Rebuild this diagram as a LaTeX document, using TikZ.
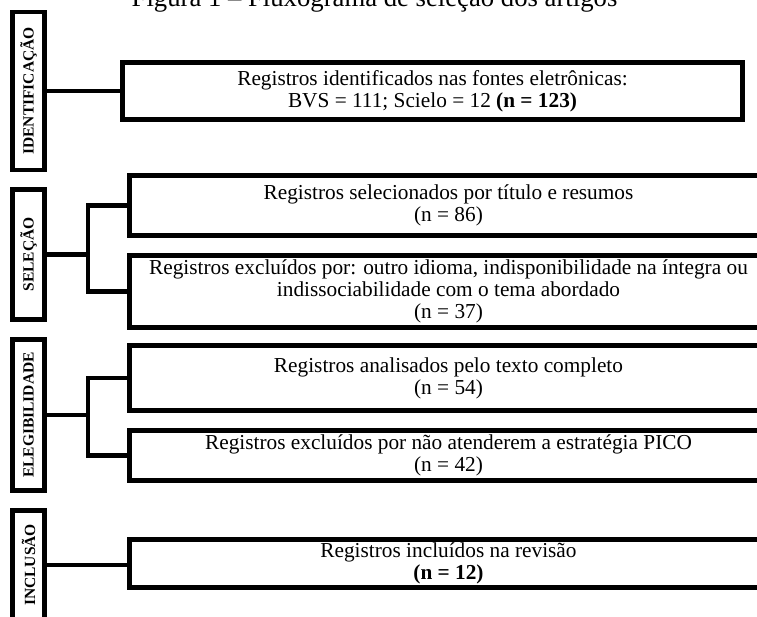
\documentclass[tikz,border=0pt]{standalone}
\usepackage{fontspec}
\setmainfont{Liberation Serif}

\begin{document}
\begin{tikzpicture}[x=1pt,y=-1pt,
box/.style={draw, line width=4.5pt, inner sep=2pt, align=center, font=\fontsize{21.3}{22}\selectfont},
stage/.style={draw, line width=4.5pt, rotate=90, inner sep=0pt, minimum height=32pt, font=\fontsize{15.5}{16}\selectfont\bfseries},
link/.style={line width=4.5pt}]
\clip (0,0) rectangle (757,617);
\node[anchor=base, font=\fontsize{26.7}{28}\selectfont] (title) at (374.5,6.5) {Figura 1 – Fluxograma de seleção dos artigos};
\foreach \nm/\y/\h/\txt in {lid/91/158/IDENTIFICAÇÃO, lsel/254.5/130/SELEÇÃO, leleg/415/151/ELEGIBILIDADE, lincl/565/109/INCLUSÃO}{
\node[stage, minimum width=\h pt] (\nm) at (28.5,\y) {\txt};
}
\node[box, line width=5pt, minimum width=620pt, minimum height=57pt] (reg) at (432.5,91) {Registros identificados nas fontes eletrônicas:\\ BVS = 111; Scielo = 12 \textbf{(n = 123)}};
\node[box, minimum width=638pt, minimum height=60pt] (sel1) at (448.5,205.5) {Registros selecionados por título e resumos\\ (n = 86)};
\node[box, minimum width=638pt, minimum height=72pt] (sel2) at (448.5,291.5) {Registros excluídos por: outro idioma, indisponibilidade na íntegra ou\\ indissociabilidade com o tema abordado\\ (n = 37)};
\node[box, minimum width=638pt, minimum height=65pt] (eleg1) at (448.5,378) {Registros analisados pelo texto completo\\ (n = 54)};
\node[box, minimum width=638pt, minimum height=50pt] (eleg2) at (448.5,455.5) {Registros excluídos por não atenderem a estratégia PICO\\ (n = 42)};
\node[box, minimum width=638pt, minimum height=48pt] (incl) at (448.5,563.5) {Registros incluídos na revisão\\ \textbf{(n = 12)}};
\coordinate (jsel) at (88,254.5);
\coordinate (jeleg) at (88,415);
\draw[link] (lid.south) -- (lid.south -| reg.west);
\draw[link] (lsel.south) -- (jsel);
\draw[link] (sel1.west) -| (jsel) |- (sel2.west);
\draw[link] (leleg.south) -- (jeleg);
\draw[link] (eleg1.west) -| (jeleg) |- (eleg2.west);
\draw[link] (lincl.south) -- (lincl.south -| incl.west);
\end{tikzpicture}
\end{document}
